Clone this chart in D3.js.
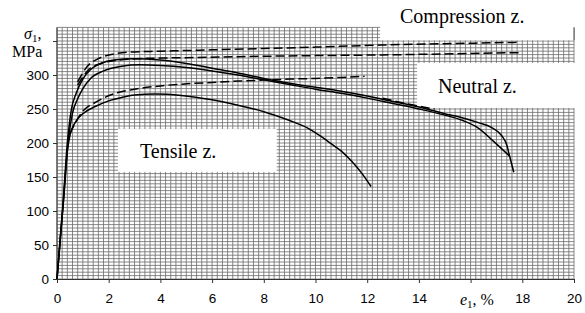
<!DOCTYPE html>
<html>
<head>
<meta charset="utf-8">
<script src="https://cdn.jsdelivr.net/npm/d3@7"></script>
<style>
  html, body { margin: 0; padding: 0; background: #fff; }
  svg { display: block; }
</style>
</head>
<body>
<svg id="chart" width="585" height="313"></svg>
<script>
// --- data (e1 %, sigma1 MPa) ---
const xTicks = [0, 2, 4, 6, 8, 10, 12, 14, 16, 18, 20];
const xLabels = [0, 2, 4, 6, 8, 10, 12, 14, 18, 20]; // 16 gives its place to the title
const yTicks = [0, 50, 100, 150, 200, 250, 300, 350];
const yLabels = [0, 50, 100, 150, 200, 250, 300];

// solid curves
const solidA = [[0,0],[0.24,115],[0.4,200],[0.55,248],[0.75,274],[1.0,294],[1.3,308],[1.7,317],[2.2,322],[3.0,324],[4,322],[5,317],[6,310],[7,303],[8,295],[9,288],[10,282],[11,276],[12,269],[13,261],[14,253],[15,243],[15.6,238],[16.3,230],[16.8,223],[17.2,211],[17.4,197],[17.5,182],[17.67,157]];
const solidB = [[0,0],[0.25,115],[0.45,208],[0.6,244],[0.8,265],[1.0,280],[1.3,295],[1.8,306],[2.5,313],[3.2,315],[4,314],[5,311],[6,306],[7,300],[8,293],[9,286],[10,279],[11,273],[12,266],[13,258],[14,250],[15,241],[15.7,233],[16.3,222],[16.9,202],[17.5,181]];
const solidC = [[0,0],[0.25,115],[0.4,188],[0.5,211],[0.7,230],[1.0,243],[1.5,254],[2.0,262],[2.5,267],[3.0,270.5],[3.8,272],[4.8,270],[6.0,263.5],[7.0,255.5],[8.0,246],[9.0,233],[9.7,222],[10.2,210],[10.6,199],[11.0,188],[11.4,173],[11.8,155],[12.15,136]];

// dashed curves
const dashD1 = [[0.8,290],[1.2,314],[1.6,324],[2.2,331],[3,334],[4,335],[5,336],[6,337],[8,339],[10,341],[12.5,344],[15,346],[17.8,348]];
const dashD2 = [[0.8,285],[1.2,307],[1.7,317],[2.4,322],[3.5,324.5],[5,325.5],[7,327],[10,328.5],[12.5,329.5],[15,331],[18.0,333]];
const dashD3 = [[0.5,214],[1.0,247],[1.5,260],[2.25,273],[3,279],[4,284],[5,287],[6,289],[7,291],[8,292.5],[9,294],[10,295],[11,296.5],[11.9,298]];
const dashD4 = [[12.6,266],[13.5,258],[14.6,250]];

const svg = d3.select("#chart");

const x = d3.scaleLinear().domain([0, 20]).range([57, 574]);
const y = d3.scaleLinear().domain([0, 350]).range([279, 41]);

// --- millimetre-paper grid ---
const grid = svg.append("g").attr("class", "grid");
const gridTop = 370;
grid.selectAll("line.v")
  .data(d3.range(0, 101).map(i => i * 0.2))
  .join("line")
  .attr("x1", d => x(d)).attr("x2", d => x(d))
  .attr("y1", y(0)).attr("y2", y(gridTop))
  .attr("stroke", "#6a6a6a").attr("stroke-width", 0.8);
grid.selectAll("line.h")
  .data(d3.range(0, 75).map(i => i * 5))
  .join("line")
  .attr("x1", x(0)).attr("x2", x(20))
  .attr("y1", d => y(d)).attr("y2", d => y(d))
  .attr("stroke", "#6a6a6a").attr("stroke-width", 0.8);

// white areas with the zone names
const boxes = [
  { x0: 12.5, x1: 20, y0: 351, y1: 380 },
  { x0: 13.93, x1: 20.5, y0: 251.5, y1: 317.6 },
  { x0: 2.36, x1: 8.5, y0: 157.5, y1: 220.5 }
];
svg.selectAll("rect.box")
  .data(boxes)
  .join("rect")
  .attr("x", d => x(d.x0)).attr("y", d => y(d.y1))
  .attr("width", d => x(d.x1) - x(d.x0))
  .attr("height", d => y(d.y0) - y(d.y1))
  .attr("fill", "#fff");

// right edge stub above the compression box
svg.append("line")
  .attr("x1", x(20)).attr("x2", x(20))
  .attr("y1", y(351)).attr("y2", y(gridTop))
  .attr("stroke", "#444");

// --- axes ---
const xAxis = d3.axisBottom(x).tickValues(xTicks).tickSize(4).tickSizeOuter(0).tickPadding(10)
  .tickFormat(d => xLabels.includes(d) ? d : "");
const yAxis = d3.axisLeft(y).tickValues(yTicks).tickSize(4).tickSizeOuter(0)
  .tickFormat(d => yLabels.includes(d) ? d : "");

const gx = svg.append("g").attr("transform", `translate(0,${y(0)})`).call(xAxis);
const gy = svg.append("g").attr("transform", `translate(${x(0)},0)`).call(yAxis);
gy.select(".domain").attr("d", `M0,${y(0)}V${y(gridTop)}`);
[gx, gy].forEach(g => {
  g.selectAll("text")
    .attr("font-family", "Liberation Sans, Arial, sans-serif")
    .attr("font-size", 13.5).attr("fill", "#000");
  g.selectAll("line, path").attr("stroke", "#333");
});
gy.selectAll("text").attr("dx", -1);

// --- curves ---
const line = d3.line()
  .x(d => x(d[0])).y(d => y(d[1]))
  .curve(d3.curveMonotoneX);

const curves = [
  { pts: solidA, dash: null },
  { pts: solidB, dash: null },
  { pts: solidC, dash: null },
  { pts: dashD1, dash: "9,4" },
  { pts: dashD2, dash: "9,4" },
  { pts: dashD3, dash: "9,4" },
  { pts: dashD4, dash: "9,4" }
];
svg.selectAll("path.curve")
  .data(curves)
  .join("path")
  .attr("class", "curve")
  .attr("d", d => line(d.pts))
  .attr("fill", "none")
  .attr("stroke", "#000")
  .attr("stroke-width", 1.5)
  .attr("stroke-dasharray", d => d.dash);

// --- texts ---
const serif = "Liberation Serif, Times New Roman, serif";
const zoneText = [
  { t: "Compression z.", x: 400, y: 23 },
  { t: "Neutral z.", x: 438, y: 93 },
  { t: "Tensile z.", x: 140, y: 158 }
];
svg.selectAll("text.zone")
  .data(zoneText)
  .join("text")
  .attr("x", d => d.x).attr("y", d => d.y)
  .attr("font-family", serif).attr("font-size", 20)
  .text(d => d.t);

// y title: sigma_1, MPa
const yt = svg.append("text").attr("x", 24).attr("y", 39)
  .attr("font-family", serif).attr("font-size", 16);
yt.append("tspan").attr("font-style", "italic").text("σ");
yt.append("tspan").attr("font-size", 11).attr("dy", 3).text("1");
yt.append("tspan").attr("dy", -3).text(",");
svg.append("text").attr("x", 12).attr("y", 57)
  .attr("font-family", serif).attr("font-size", 16).text("MPa");

// x title: e_1, %
const xt = svg.append("text").attr("x", 460).attr("y", 305)
  .attr("font-family", serif).attr("font-size", 16);
xt.append("tspan").attr("font-style", "italic").text("e");
xt.append("tspan").attr("font-size", 11).attr("dy", 3).text("1");
xt.append("tspan").attr("dy", -3).text(", %");
</script>
</body>
</html>
